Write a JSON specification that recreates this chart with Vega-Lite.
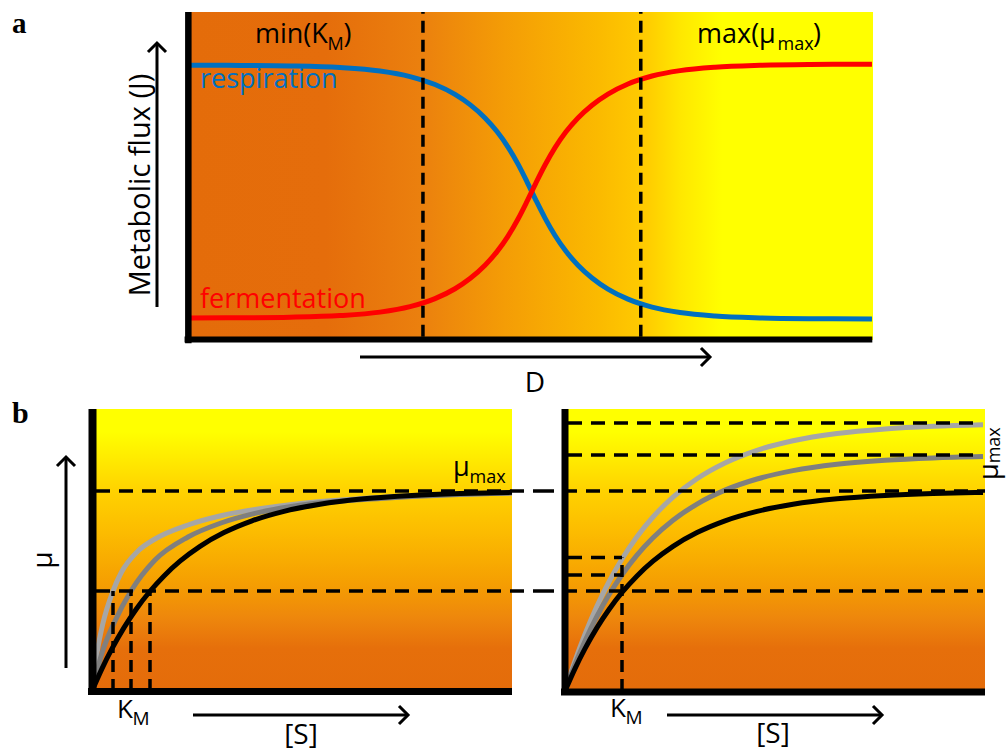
{
  "$schema": "https://vega.github.io/schema/vega-lite/v6.json",
  "padding": 0,
  "spacing": 0,
  "bounds": "flush",
  "background": "white",
  "config": {
    "view": {"stroke": null},
    "axis": {"disable": true},
    "legend": {"disable": true},
    "text": {"font": "Open Sans", "color": "black"}
  },
  "vconcat": [
    {
      "width": 1007,
      "height": 395,
      "layer": [
        {
          "data": {"values": [{}]},
          "mark": {"type": "rect", "stroke": null, "fill": {"gradient": "linear", "x1": 0, "y1": 0, "x2": 1, "y2": 0, "stops": [
            {"offset": 0, "color": "#E46C0A"},
            {"offset": 0.2, "color": "#E56D0B"},
            {"offset": 0.34, "color": "#EB800E"},
            {"offset": 0.46, "color": "#F49C06"},
            {"offset": 0.6, "color": "#FBBA00"},
            {"offset": 0.67, "color": "#FFCC00"},
            {"offset": 0.72, "color": "#FFE800"},
            {"offset": 0.78, "color": "#FFFF00"},
            {"offset": 1, "color": "#FFFF00"}
          ]}},
          "encoding": {
            "x": {"datum": 0, "type": "quantitative", "scale": {"domain": [-2.7445, 11.9562], "nice": false, "zero": false}, "axis": null},
            "x2": {"datum": 10},
            "y": {"datum": 0, "type": "quantitative", "scale": {"domain": [-0.16768, 1.03659], "nice": false, "zero": false}, "axis": null},
            "y2": {"datum": 1}
          }
        },
        {
          "data": {"values": [
            {"D": 0.029, "J": 0.8377}, {"D": 0.759, "J": 0.8372}, {"D": 1.489, "J": 0.8356}, {"D": 2.219, "J": 0.8306},
            {"D": 2.803, "J": 0.82}, {"D": 3.241, "J": 0.8032}, {"D": 3.606, "J": 0.7788}, {"D": 3.898, "J": 0.7487},
            {"D": 4.117, "J": 0.7176}, {"D": 4.336, "J": 0.677}, {"D": 4.511, "J": 0.6356}, {"D": 4.672, "J": 0.5882},
            {"D": 4.818, "J": 0.5361}, {"D": 4.949, "J": 0.4823}, {"D": 5.08, "J": 0.4258}, {"D": 5.212, "J": 0.3716},
            {"D": 5.358, "J": 0.3186}, {"D": 5.518, "J": 0.2703}, {"D": 5.693, "J": 0.2281}, {"D": 5.898, "J": 0.1892},
            {"D": 6.131, "J": 0.1552}, {"D": 6.423, "J": 0.1245}, {"D": 6.774, "J": 0.1002}, {"D": 7.182, "J": 0.0837},
            {"D": 7.693, "J": 0.0731}, {"D": 8.35, "J": 0.0674}, {"D": 9.08, "J": 0.0651}, {"D": 9.985, "J": 0.0643}
          ]},
          "mark": {"type": "line", "interpolate": "monotone", "strokeWidth": 5, "strokeCap": "butt", "color": "#0070C0"},
          "encoding": {
            "x": {"field": "D", "type": "quantitative", "scale": {"domain": [-2.7445, 11.9562], "nice": false, "zero": false}, "axis": null},
            "y": {"field": "J", "type": "quantitative", "scale": {"domain": [-0.16768, 1.03659], "nice": false, "zero": false}, "axis": null}
          }
        },
        {
          "data": {"values": [
            {"D": 0.029, "J": 0.0673}, {"D": 0.759, "J": 0.0678}, {"D": 1.489, "J": 0.0694}, {"D": 2.219, "J": 0.0744},
            {"D": 2.803, "J": 0.085}, {"D": 3.241, "J": 0.1018}, {"D": 3.606, "J": 0.1262}, {"D": 3.898, "J": 0.1563},
            {"D": 4.117, "J": 0.1874}, {"D": 4.336, "J": 0.228}, {"D": 4.511, "J": 0.2694}, {"D": 4.672, "J": 0.3168},
            {"D": 4.818, "J": 0.3689}, {"D": 4.949, "J": 0.4227}, {"D": 5.08, "J": 0.4792}, {"D": 5.212, "J": 0.5334},
            {"D": 5.358, "J": 0.5864}, {"D": 5.518, "J": 0.6347}, {"D": 5.693, "J": 0.6769}, {"D": 5.898, "J": 0.7158},
            {"D": 6.131, "J": 0.7498}, {"D": 6.423, "J": 0.7805}, {"D": 6.774, "J": 0.8048}, {"D": 7.182, "J": 0.8213},
            {"D": 7.693, "J": 0.8319}, {"D": 8.35, "J": 0.8376}, {"D": 9.08, "J": 0.8399}, {"D": 9.985, "J": 0.8407}
          ]},
          "mark": {"type": "line", "interpolate": "monotone", "strokeWidth": 5, "strokeCap": "butt", "color": "#FF0000"},
          "encoding": {
            "x": {"field": "D", "type": "quantitative", "scale": {"domain": [-2.7445, 11.9562], "nice": false, "zero": false}, "axis": null},
            "y": {"field": "J", "type": "quantitative", "scale": {"domain": [-0.16768, 1.03659], "nice": false, "zero": false}, "axis": null}
          }
        },
        {
          "data": {"values": [{"D": 3.43, "J": 0.01, "J2": 1}, {"D": 6.61, "J": 0.01, "J2": 1}]},
          "mark": {"type": "rule", "strokeDash": [12, 7], "strokeWidth": 3.5, "color": "black"},
          "encoding": {
            "x": {"field": "D", "type": "quantitative", "scale": {"domain": [-2.7445, 11.9562], "nice": false, "zero": false}, "axis": null},
            "y": {"field": "J", "type": "quantitative", "scale": {"domain": [-0.16768, 1.03659], "nice": false, "zero": false}, "axis": null},
            "y2": {"field": "J2"}
          }
        },
        {
          "data": {"values": [{}]},
          "mark": {"type": "rule", "strokeWidth": 6.5, "color": "black"},
          "encoding": {
            "x": {"datum": 0.005, "type": "quantitative", "scale": {"domain": [-2.7445, 11.9562], "nice": false, "zero": false}, "axis": null},
            "y": {"datum": -0.01, "type": "quantitative", "scale": {"domain": [-0.16768, 1.03659], "nice": false, "zero": false}, "axis": null},
            "y2": {"datum": 1}
          }
        },
        {
          "data": {"values": [{}]},
          "mark": {"type": "rule", "strokeWidth": 6, "color": "black"},
          "encoding": {
            "x": {"datum": -0.05, "type": "quantitative", "scale": {"domain": [-2.7445, 11.9562], "nice": false, "zero": false}, "axis": null},
            "x2": {"datum": 9.99},
            "y": {"datum": 0.0015, "type": "quantitative", "scale": {"domain": [-0.16768, 1.03659], "nice": false, "zero": false}, "axis": null}
          }
        },
        {
          "data": {"values": [{}]},
          "mark": {"type": "rule", "strokeWidth": 3, "color": "black"},
          "encoding": {
            "x": {"datum": -0.4526, "type": "quantitative", "scale": {"domain": [-2.7445, 11.9562], "nice": false, "zero": false}, "axis": null},
            "y": {"datum": 0.1006, "type": "quantitative", "scale": {"domain": [-0.16768, 1.03659], "nice": false, "zero": false}, "axis": null},
            "y2": {"datum": 0.9055}
          }
        },
        {
          "data": {"values": [{}]},
          "mark": {"type": "point", "shape": "M -1 1 L 0 0 L 1 1", "filled": false, "stroke": "black", "strokeWidth": 3, "size": 324, "opacity": 1},
          "encoding": {
            "x": {"datum": -0.4526, "type": "quantitative", "scale": {"domain": [-2.7445, 11.9562], "nice": false, "zero": false}, "axis": null},
            "y": {"datum": 0.9055, "type": "quantitative", "scale": {"domain": [-0.16768, 1.03659], "nice": false, "zero": false}, "axis": null}
          }
        },
        {
          "data": {"values": [{}]},
          "mark": {"type": "rule", "strokeWidth": 3, "color": "black"},
          "encoding": {
            "x": {"datum": 2.511, "type": "quantitative", "scale": {"domain": [-2.7445, 11.9562], "nice": false, "zero": false}, "axis": null},
            "x2": {"datum": 7.62},
            "y": {"datum": -0.0518, "type": "quantitative", "scale": {"domain": [-0.16768, 1.03659], "nice": false, "zero": false}, "axis": null}
          }
        },
        {
          "data": {"values": [{}]},
          "mark": {"type": "point", "shape": "M -1 -1 L 0 0 L -1 1", "filled": false, "stroke": "black", "strokeWidth": 3, "size": 324, "opacity": 1},
          "encoding": {
            "x": {"datum": 7.62, "type": "quantitative", "scale": {"domain": [-2.7445, 11.9562], "nice": false, "zero": false}, "axis": null},
            "y": {"datum": -0.0518, "type": "quantitative", "scale": {"domain": [-0.16768, 1.03659], "nice": false, "zero": false}, "axis": null}
          }
        },
        {
          "data": {"values": [{}]},
          "mark": {"type": "text", "text": "a", "font": "Liberation Serif", "fontWeight": "bold", "fontSize": 29, "align": "left", "baseline": "alphabetic"},
          "encoding": {
            "x": {"datum": -2.569, "type": "quantitative", "scale": {"domain": [-2.7445, 11.9562], "nice": false, "zero": false}, "axis": null},
            "y": {"datum": 0.936, "type": "quantitative", "scale": {"domain": [-0.16768, 1.03659], "nice": false, "zero": false}, "axis": null}
          }
        },
        {
          "data": {"values": [{}]},
          "mark": {"type": "text", "text": "Metabolic flux (J)", "fontSize": 29, "angle": 270, "align": "center", "baseline": "alphabetic"},
          "encoding": {
            "x": {"datum": -0.555, "type": "quantitative", "scale": {"domain": [-2.7445, 11.9562], "nice": false, "zero": false}, "axis": null},
            "y": {"datum": 0.4726, "type": "quantitative", "scale": {"domain": [-0.16768, 1.03659], "nice": false, "zero": false}, "axis": null}
          }
        },
        {
          "data": {"values": [{}]},
          "mark": {"type": "text", "text": "respiration", "fontSize": 27, "color": "#0070C0", "align": "left", "baseline": "alphabetic"},
          "encoding": {
            "x": {"datum": 0.175, "type": "quantitative", "scale": {"domain": [-2.7445, 11.9562], "nice": false, "zero": false}, "axis": null},
            "y": {"datum": 0.768, "type": "quantitative", "scale": {"domain": [-0.16768, 1.03659], "nice": false, "zero": false}, "axis": null}
          }
        },
        {
          "data": {"values": [{}]},
          "mark": {"type": "text", "text": "fermentation", "fontSize": 27, "color": "#FF0000", "align": "left", "baseline": "alphabetic"},
          "encoding": {
            "x": {"datum": 0.175, "type": "quantitative", "scale": {"domain": [-2.7445, 11.9562], "nice": false, "zero": false}, "axis": null},
            "y": {"datum": 0.0976, "type": "quantitative", "scale": {"domain": [-0.16768, 1.03659], "nice": false, "zero": false}, "axis": null}
          }
        },
        {
          "data": {"values": [{}]},
          "mark": {"type": "text", "text": "min(K", "fontSize": 27, "align": "left", "baseline": "alphabetic"},
          "encoding": {
            "x": {"datum": 0.978, "type": "quantitative", "scale": {"domain": [-2.7445, 11.9562], "nice": false, "zero": false}, "axis": null},
            "y": {"datum": 0.9055, "type": "quantitative", "scale": {"domain": [-0.16768, 1.03659], "nice": false, "zero": false}, "axis": null}
          }
        },
        {
          "data": {"values": [{}]},
          "mark": {"type": "text", "text": "M", "fontSize": 18, "align": "left", "baseline": "alphabetic"},
          "encoding": {
            "x": {"datum": 2.036, "type": "quantitative", "scale": {"domain": [-2.7445, 11.9562], "nice": false, "zero": false}, "axis": null},
            "y": {"datum": 0.884, "type": "quantitative", "scale": {"domain": [-0.16768, 1.03659], "nice": false, "zero": false}, "axis": null}
          }
        },
        {
          "data": {"values": [{}]},
          "mark": {"type": "text", "text": ")", "fontSize": 27, "align": "left", "baseline": "alphabetic"},
          "encoding": {
            "x": {"datum": 2.269, "type": "quantitative", "scale": {"domain": [-2.7445, 11.9562], "nice": false, "zero": false}, "axis": null},
            "y": {"datum": 0.9055, "type": "quantitative", "scale": {"domain": [-0.16768, 1.03659], "nice": false, "zero": false}, "axis": null}
          }
        },
        {
          "data": {"values": [{}]},
          "mark": {"type": "text", "text": "max(μ", "fontSize": 27, "align": "left", "baseline": "alphabetic"},
          "encoding": {
            "x": {"datum": 7.431, "type": "quantitative", "scale": {"domain": [-2.7445, 11.9562], "nice": false, "zero": false}, "axis": null},
            "y": {"datum": 0.9055, "type": "quantitative", "scale": {"domain": [-0.16768, 1.03659], "nice": false, "zero": false}, "axis": null}
          }
        },
        {
          "data": {"values": [{}]},
          "mark": {"type": "text", "text": "max", "fontSize": 18, "align": "left", "baseline": "alphabetic"},
          "encoding": {
            "x": {"datum": 8.606, "type": "quantitative", "scale": {"domain": [-2.7445, 11.9562], "nice": false, "zero": false}, "axis": null},
            "y": {"datum": 0.884, "type": "quantitative", "scale": {"domain": [-0.16768, 1.03659], "nice": false, "zero": false}, "axis": null}
          }
        },
        {
          "data": {"values": [{}]},
          "mark": {"type": "text", "text": ")", "fontSize": 27, "align": "left", "baseline": "alphabetic"},
          "encoding": {
            "x": {"datum": 9.124, "type": "quantitative", "scale": {"domain": [-2.7445, 11.9562], "nice": false, "zero": false}, "axis": null},
            "y": {"datum": 0.9055, "type": "quantitative", "scale": {"domain": [-0.16768, 1.03659], "nice": false, "zero": false}, "axis": null}
          }
        },
        {
          "data": {"values": [{}]},
          "mark": {"type": "text", "text": "D", "fontSize": 28, "align": "center", "baseline": "alphabetic"},
          "encoding": {
            "x": {"datum": 5.066, "type": "quantitative", "scale": {"domain": [-2.7445, 11.9562], "nice": false, "zero": false}, "axis": null},
            "y": {"datum": -0.1585, "type": "quantitative", "scale": {"domain": [-0.16768, 1.03659], "nice": false, "zero": false}, "axis": null}
          }
        }
      ]
    },
    {
      "spacing": 0,
      "bounds": "flush",
      "hconcat": [
        {
          "width": 540,
          "height": 356,
          "layer": [
            {
              "data": {"values": [{}]},
              "mark": {"type": "rect", "stroke": null, "fill": {"gradient": "linear", "x1": 0, "y1": 0, "x2": 0, "y2": 1, "stops": [
                {"offset": 0, "color": "#FFFF00"},
                {"offset": 0.08, "color": "#FFFF00"},
                {"offset": 0.18, "color": "#FFEA00"},
                {"offset": 0.29, "color": "#FFD200"},
                {"offset": 0.44, "color": "#FCBB00"},
                {"offset": 0.62, "color": "#F59E02"},
                {"offset": 0.74, "color": "#EE870C"},
                {"offset": 0.85, "color": "#E66F0B"},
                {"offset": 1, "color": "#E46C0A"}
              ]}},
              "encoding": {
                "x": {"datum": 0, "type": "quantitative", "scale": {"domain": [-2.3, 11.2], "nice": false, "zero": false}, "axis": null},
                "x2": {"datum": 10.5},
                "y": {"datum": 0, "type": "quantitative", "scale": {"domain": [-0.3, 1.48], "nice": false, "zero": false}, "axis": null},
                "y2": {"datum": 1.41}
              }
            },
            {
              "data": {"values": [
                {"S": 0, "mu": 0}, {"S": 0.125, "mu": 0.19}, {"S": 0.275, "mu": 0.34}, {"S": 0.525, "mu": 0.5},
                {"S": 0.725, "mu": 0.59}, {"S": 1.15, "mu": 0.7}, {"S": 1.575, "mu": 0.76}, {"S": 2.4, "mu": 0.83},
                {"S": 3.225, "mu": 0.876}, {"S": 4.075, "mu": 0.908}, {"S": 4.9, "mu": 0.93}, {"S": 5.65, "mu": 0.946},
                {"S": 7.2, "mu": 0.968}, {"S": 8.875, "mu": 0.982}, {"S": 10.5, "mu": 0.99}
              ]},
              "mark": {"type": "line", "interpolate": "monotone", "strokeWidth": 5, "strokeCap": "butt", "color": "#A6A6A6"},
              "encoding": {
                "x": {"field": "S", "type": "quantitative", "scale": {"domain": [-2.3, 11.2], "nice": false, "zero": false}, "axis": null},
                "y": {"field": "mu", "type": "quantitative", "scale": {"domain": [-0.3, 1.48], "nice": false, "zero": false}, "axis": null}
              }
            },
            {
              "data": {"values": [
                {"S": 0, "mu": 0}, {"S": 0.25, "mu": 0.19}, {"S": 0.575, "mu": 0.35}, {"S": 0.975, "mu": 0.5},
                {"S": 1.575, "mu": 0.655}, {"S": 2.4, "mu": 0.77}, {"S": 3.225, "mu": 0.84}, {"S": 4.075, "mu": 0.888},
                {"S": 4.9, "mu": 0.92}, {"S": 5.65, "mu": 0.94}, {"S": 7.2, "mu": 0.963}, {"S": 8.875, "mu": 0.98},
                {"S": 10.5, "mu": 0.99}
              ]},
              "mark": {"type": "line", "interpolate": "monotone", "strokeWidth": 5, "strokeCap": "butt", "color": "#7F7F7F"},
              "encoding": {
                "x": {"field": "S", "type": "quantitative", "scale": {"domain": [-2.3, 11.2], "nice": false, "zero": false}, "axis": null},
                "y": {"field": "mu", "type": "quantitative", "scale": {"domain": [-0.3, 1.48], "nice": false, "zero": false}, "axis": null}
              }
            },
            {
              "data": {"values": [
                {"S": 0, "mu": 0}, {"S": 0.25, "mu": 0.1122}, {"S": 0.5, "mu": 0.2119}, {"S": 0.8, "mu": 0.3168},
                {"S": 1.1, "mu": 0.4077}, {"S": 1.45, "mu": 0.4987}, {"S": 1.8, "mu": 0.5756}, {"S": 2.2, "mu": 0.6492},
                {"S": 2.7, "mu": 0.7235}, {"S": 3.3, "mu": 0.7922}, {"S": 4.0, "mu": 0.8511}, {"S": 4.8, "mu": 0.8983},
                {"S": 5.7, "mu": 0.9337}, {"S": 6.8, "mu": 0.9608}, {"S": 8.0, "mu": 0.9778}, {"S": 9.2, "mu": 0.9875},
                {"S": 10.5, "mu": 0.9933}
              ]},
              "mark": {"type": "line", "interpolate": "monotone", "strokeWidth": 5, "strokeCap": "butt", "color": "#000000"},
              "encoding": {
                "x": {"field": "S", "type": "quantitative", "scale": {"domain": [-2.3, 11.2], "nice": false, "zero": false}, "axis": null},
                "y": {"field": "mu", "type": "quantitative", "scale": {"domain": [-0.3, 1.48], "nice": false, "zero": false}, "axis": null}
              }
            },
            {
              "data": {"values": [{"S": 0.1, "S2": 11.2, "mu": 1}, {"S": 0.1, "S2": 11.2, "mu": 0.5}]},
              "mark": {"type": "rule", "strokeDash": [14, 9], "strokeWidth": 3.5, "color": "black"},
              "encoding": {
                "x": {"field": "S", "type": "quantitative", "scale": {"domain": [-2.3, 11.2], "nice": false, "zero": false}, "axis": null},
                "x2": {"field": "S2"},
                "y": {"field": "mu", "type": "quantitative", "scale": {"domain": [-0.3, 1.48], "nice": false, "zero": false}, "axis": null}
              }
            },
            {
              "data": {"values": [{"S": 0.525, "mu": 0, "mu2": 0.5}, {"S": 0.975, "mu": 0, "mu2": 0.5}, {"S": 1.45, "mu": 0, "mu2": 0.5}]},
              "mark": {"type": "rule", "strokeDash": [12, 7], "strokeWidth": 3.5, "color": "black"},
              "encoding": {
                "x": {"field": "S", "type": "quantitative", "scale": {"domain": [-2.3, 11.2], "nice": false, "zero": false}, "axis": null},
                "y": {"field": "mu", "type": "quantitative", "scale": {"domain": [-0.3, 1.48], "nice": false, "zero": false}, "axis": null},
                "y2": {"field": "mu2"}
              }
            },
            {
              "data": {"values": [{}]},
              "mark": {"type": "rule", "strokeWidth": 8, "color": "black"},
              "encoding": {
                "x": {"datum": 0.0125, "type": "quantitative", "scale": {"domain": [-2.3, 11.2], "nice": false, "zero": false}, "axis": null},
                "y": {"datum": -0.02, "type": "quantitative", "scale": {"domain": [-0.3, 1.48], "nice": false, "zero": false}, "axis": null},
                "y2": {"datum": 1.41}
              }
            },
            {
              "data": {"values": [{}]},
              "mark": {"type": "rule", "strokeWidth": 7, "color": "black"},
              "encoding": {
                "x": {"datum": -0.1, "type": "quantitative", "scale": {"domain": [-2.3, 11.2], "nice": false, "zero": false}, "axis": null},
                "x2": {"datum": 10.5},
                "y": {"datum": -0.0025, "type": "quantitative", "scale": {"domain": [-0.3, 1.48], "nice": false, "zero": false}, "axis": null}
              }
            },
            {
              "data": {"values": [{}]},
              "mark": {"type": "rule", "strokeWidth": 3, "color": "black"},
              "encoding": {
                "x": {"datum": -0.65, "type": "quantitative", "scale": {"domain": [-2.3, 11.2], "nice": false, "zero": false}, "axis": null},
                "y": {"datum": 0.115, "type": "quantitative", "scale": {"domain": [-0.3, 1.48], "nice": false, "zero": false}, "axis": null},
                "y2": {"datum": 1.17}
              }
            },
            {
              "data": {"values": [{}]},
              "mark": {"type": "point", "shape": "M -1 1 L 0 0 L 1 1", "filled": false, "stroke": "black", "strokeWidth": 3, "size": 324, "opacity": 1},
              "encoding": {
                "x": {"datum": -0.65, "type": "quantitative", "scale": {"domain": [-2.3, 11.2], "nice": false, "zero": false}, "axis": null},
                "y": {"datum": 1.17, "type": "quantitative", "scale": {"domain": [-0.3, 1.48], "nice": false, "zero": false}, "axis": null}
              }
            },
            {
              "data": {"values": [{}]},
              "mark": {"type": "rule", "strokeWidth": 3, "color": "black"},
              "encoding": {
                "x": {"datum": 2.525, "type": "quantitative", "scale": {"domain": [-2.3, 11.2], "nice": false, "zero": false}, "axis": null},
                "x2": {"datum": 7.9},
                "y": {"datum": -0.12, "type": "quantitative", "scale": {"domain": [-0.3, 1.48], "nice": false, "zero": false}, "axis": null}
              }
            },
            {
              "data": {"values": [{}]},
              "mark": {"type": "point", "shape": "M -1 -1 L 0 0 L -1 1", "filled": false, "stroke": "black", "strokeWidth": 3, "size": 324, "opacity": 1},
              "encoding": {
                "x": {"datum": 7.9, "type": "quantitative", "scale": {"domain": [-2.3, 11.2], "nice": false, "zero": false}, "axis": null},
                "y": {"datum": -0.12, "type": "quantitative", "scale": {"domain": [-0.3, 1.48], "nice": false, "zero": false}, "axis": null}
              }
            },
            {
              "data": {"values": [{}]},
              "mark": {"type": "text", "text": "b", "font": "Liberation Serif", "fontWeight": "bold", "fontSize": 30, "align": "left", "baseline": "alphabetic"},
              "encoding": {
                "x": {"datum": -2.0, "type": "quantitative", "scale": {"domain": [-2.3, 11.2], "nice": false, "zero": false}, "axis": null},
                "y": {"datum": 1.34, "type": "quantitative", "scale": {"domain": [-0.3, 1.48], "nice": false, "zero": false}, "axis": null}
              }
            },
            {
              "data": {"values": [{}]},
              "mark": {"type": "text", "text": "μ", "fontSize": 28, "angle": 270, "align": "center", "baseline": "alphabetic"},
              "encoding": {
                "x": {"datum": -1.0, "type": "quantitative", "scale": {"domain": [-2.3, 11.2], "nice": false, "zero": false}, "axis": null},
                "y": {"datum": 0.655, "type": "quantitative", "scale": {"domain": [-0.3, 1.48], "nice": false, "zero": false}, "axis": null}
              }
            },
            {
              "data": {"values": [{}]},
              "mark": {"type": "text", "text": "μ", "fontSize": 27, "align": "left", "baseline": "alphabetic"},
              "encoding": {
                "x": {"datum": 9.025, "type": "quantitative", "scale": {"domain": [-2.3, 11.2], "nice": false, "zero": false}, "axis": null},
                "y": {"datum": 1.0775, "type": "quantitative", "scale": {"domain": [-0.3, 1.48], "nice": false, "zero": false}, "axis": null}
              }
            },
            {
              "data": {"values": [{}]},
              "mark": {"type": "text", "text": "max", "fontSize": 18, "align": "left", "baseline": "alphabetic"},
              "encoding": {
                "x": {"datum": 9.44, "type": "quantitative", "scale": {"domain": [-2.3, 11.2], "nice": false, "zero": false}, "axis": null},
                "y": {"datum": 1.04, "type": "quantitative", "scale": {"domain": [-0.3, 1.48], "nice": false, "zero": false}, "axis": null}
              }
            },
            {
              "data": {"values": [{}]},
              "mark": {"type": "text", "text": "K", "fontSize": 26, "align": "left", "baseline": "alphabetic"},
              "encoding": {
                "x": {"datum": 0.625, "type": "quantitative", "scale": {"domain": [-2.3, 11.2], "nice": false, "zero": false}, "axis": null},
                "y": {"datum": -0.135, "type": "quantitative", "scale": {"domain": [-0.3, 1.48], "nice": false, "zero": false}, "axis": null}
              }
            },
            {
              "data": {"values": [{}]},
              "mark": {"type": "text", "text": "M", "fontSize": 19, "align": "left", "baseline": "alphabetic"},
              "encoding": {
                "x": {"datum": 1.0125, "type": "quantitative", "scale": {"domain": [-2.3, 11.2], "nice": false, "zero": false}, "axis": null},
                "y": {"datum": -0.17, "type": "quantitative", "scale": {"domain": [-0.3, 1.48], "nice": false, "zero": false}, "axis": null}
              }
            },
            {
              "data": {"values": [{}]},
              "mark": {"type": "text", "text": "[S]", "fontSize": 28, "align": "center", "baseline": "alphabetic"},
              "encoding": {
                "x": {"datum": 5.225, "type": "quantitative", "scale": {"domain": [-2.3, 11.2], "nice": false, "zero": false}, "axis": null},
                "y": {"datum": -0.265, "type": "quantitative", "scale": {"domain": [-0.3, 1.48], "nice": false, "zero": false}, "axis": null}
              }
            }
          ]
        },
        {
          "width": 467,
          "height": 356,
          "layer": [
            {
              "data": {"values": [{}]},
              "mark": {"type": "rect", "stroke": null, "fill": {"gradient": "linear", "x1": 0, "y1": 0, "x2": 0, "y2": 1, "stops": [
                {"offset": 0, "color": "#FFFF00"},
                {"offset": 0.08, "color": "#FFFF00"},
                {"offset": 0.18, "color": "#FFEA00"},
                {"offset": 0.29, "color": "#FFD200"},
                {"offset": 0.44, "color": "#FCBB00"},
                {"offset": 0.62, "color": "#F59E02"},
                {"offset": 0.74, "color": "#EE870C"},
                {"offset": 0.85, "color": "#E66F0B"},
                {"offset": 1, "color": "#E46C0A"}
              ]}},
              "encoding": {
                "x": {"datum": 0, "type": "quantitative", "scale": {"domain": [-0.625, 11.05], "nice": false, "zero": false}, "axis": null},
                "x2": {"datum": 10.5},
                "y": {"datum": 0, "type": "quantitative", "scale": {"domain": [-0.3, 1.48], "nice": false, "zero": false}, "axis": null},
                "y2": {"datum": 1.41}
              }
            },
            {
              "data": {"values": [
                {"S": 0, "mu": 0}, {"S": 0.25, "mu": 0.1503}, {"S": 0.5, "mu": 0.2839}, {"S": 0.8, "mu": 0.4245},
                {"S": 1.1, "mu": 0.5463}, {"S": 1.425, "mu": 0.6602}, {"S": 1.8, "mu": 0.7713}, {"S": 2.2, "mu": 0.8699},
                {"S": 2.7, "mu": 0.9695}, {"S": 3.3, "mu": 1.0615}, {"S": 4.0, "mu": 1.1405}, {"S": 4.8, "mu": 1.2037},
                {"S": 5.7, "mu": 1.2512}, {"S": 6.8, "mu": 1.2875}, {"S": 8.0, "mu": 1.3103}, {"S": 9.2, "mu": 1.3233},
                {"S": 10.45, "mu": 1.3308}
              ]},
              "mark": {"type": "line", "interpolate": "monotone", "strokeWidth": 5, "strokeCap": "butt", "color": "#A6A6A6"},
              "encoding": {
                "x": {"field": "S", "type": "quantitative", "scale": {"domain": [-0.625, 11.05], "nice": false, "zero": false}, "axis": null},
                "y": {"field": "mu", "type": "quantitative", "scale": {"domain": [-0.3, 1.48], "nice": false, "zero": false}, "axis": null}
              }
            },
            {
              "data": {"values": [
                {"S": 0, "mu": 0}, {"S": 0.25, "mu": 0.1324}, {"S": 0.5, "mu": 0.25}, {"S": 0.8, "mu": 0.3738},
                {"S": 1.1, "mu": 0.4811}, {"S": 1.425, "mu": 0.5814}, {"S": 1.8, "mu": 0.6792}, {"S": 2.2, "mu": 0.7661},
                {"S": 2.7, "mu": 0.8537}, {"S": 3.3, "mu": 0.9348}, {"S": 4.0, "mu": 1.0043}, {"S": 4.8, "mu": 1.06},
                {"S": 5.7, "mu": 1.1018}, {"S": 6.8, "mu": 1.1337}, {"S": 8.0, "mu": 1.1538}, {"S": 9.2, "mu": 1.1653},
                {"S": 10.45, "mu": 1.1719}
              ]},
              "mark": {"type": "line", "interpolate": "monotone", "strokeWidth": 5, "strokeCap": "butt", "color": "#7F7F7F"},
              "encoding": {
                "x": {"field": "S", "type": "quantitative", "scale": {"domain": [-0.625, 11.05], "nice": false, "zero": false}, "axis": null},
                "y": {"field": "mu", "type": "quantitative", "scale": {"domain": [-0.3, 1.48], "nice": false, "zero": false}, "axis": null}
              }
            },
            {
              "data": {"values": [
                {"S": 0, "mu": 0}, {"S": 0.25, "mu": 0.1122}, {"S": 0.5, "mu": 0.2119}, {"S": 0.8, "mu": 0.3168},
                {"S": 1.1, "mu": 0.4077}, {"S": 1.425, "mu": 0.4927}, {"S": 1.8, "mu": 0.5756}, {"S": 2.2, "mu": 0.6492},
                {"S": 2.7, "mu": 0.7235}, {"S": 3.3, "mu": 0.7922}, {"S": 4.0, "mu": 0.8511}, {"S": 4.8, "mu": 0.8983},
                {"S": 5.7, "mu": 0.9337}, {"S": 6.8, "mu": 0.9608}, {"S": 8.0, "mu": 0.9778}, {"S": 9.2, "mu": 0.9875},
                {"S": 10.45, "mu": 0.9931}
              ]},
              "mark": {"type": "line", "interpolate": "monotone", "strokeWidth": 5, "strokeCap": "butt", "color": "#000000"},
              "encoding": {
                "x": {"field": "S", "type": "quantitative", "scale": {"domain": [-0.625, 11.05], "nice": false, "zero": false}, "axis": null},
                "y": {"field": "mu", "type": "quantitative", "scale": {"domain": [-0.3, 1.48], "nice": false, "zero": false}, "axis": null}
              }
            },
            {
              "data": {"values": [
                {"S": -0.625, "S2": 10.5, "mu": 1},
                {"S": -0.625, "S2": 10.45, "mu": 0.5},
                {"S": 0.075, "S2": 10.375, "mu": 1.34},
                {"S": 0.075, "S2": 10.375, "mu": 1.18},
                {"S": 0.075, "S2": 1.425, "mu": 0.667},
                {"S": 0.075, "S2": 1.425, "mu": 0.58}
              ]},
              "mark": {"type": "rule", "strokeDash": [14, 9], "strokeWidth": 3.5, "color": "black"},
              "encoding": {
                "x": {"field": "S", "type": "quantitative", "scale": {"domain": [-0.625, 11.05], "nice": false, "zero": false}, "axis": null},
                "x2": {"field": "S2"},
                "y": {"field": "mu", "type": "quantitative", "scale": {"domain": [-0.3, 1.48], "nice": false, "zero": false}, "axis": null}
              }
            },
            {
              "data": {"values": [{"S": 1.425, "mu": 0, "mu2": 0.667}]},
              "mark": {"type": "rule", "strokeDash": [12, 7], "strokeWidth": 3.5, "color": "black"},
              "encoding": {
                "x": {"field": "S", "type": "quantitative", "scale": {"domain": [-0.625, 11.05], "nice": false, "zero": false}, "axis": null},
                "y": {"field": "mu", "type": "quantitative", "scale": {"domain": [-0.3, 1.48], "nice": false, "zero": false}, "axis": null},
                "y2": {"field": "mu2"}
              }
            },
            {
              "data": {"values": [{}]},
              "mark": {"type": "rule", "strokeWidth": 7, "color": "black"},
              "encoding": {
                "x": {"datum": 0, "type": "quantitative", "scale": {"domain": [-0.625, 11.05], "nice": false, "zero": false}, "axis": null},
                "y": {"datum": -0.02, "type": "quantitative", "scale": {"domain": [-0.3, 1.48], "nice": false, "zero": false}, "axis": null},
                "y2": {"datum": 1.41}
              }
            },
            {
              "data": {"values": [{}]},
              "mark": {"type": "rule", "strokeWidth": 7, "color": "black"},
              "encoding": {
                "x": {"datum": -0.1, "type": "quantitative", "scale": {"domain": [-0.625, 11.05], "nice": false, "zero": false}, "axis": null},
                "x2": {"datum": 10.5},
                "y": {"datum": -0.005, "type": "quantitative", "scale": {"domain": [-0.3, 1.48], "nice": false, "zero": false}, "axis": null}
              }
            },
            {
              "data": {"values": [{}]},
              "mark": {"type": "rule", "strokeWidth": 3, "color": "black"},
              "encoding": {
                "x": {"datum": 2.55, "type": "quantitative", "scale": {"domain": [-0.625, 11.05], "nice": false, "zero": false}, "axis": null},
                "x2": {"datum": 7.925},
                "y": {"datum": -0.12, "type": "quantitative", "scale": {"domain": [-0.3, 1.48], "nice": false, "zero": false}, "axis": null}
              }
            },
            {
              "data": {"values": [{}]},
              "mark": {"type": "point", "shape": "M -1 -1 L 0 0 L -1 1", "filled": false, "stroke": "black", "strokeWidth": 3, "size": 324, "opacity": 1},
              "encoding": {
                "x": {"datum": 7.925, "type": "quantitative", "scale": {"domain": [-0.625, 11.05], "nice": false, "zero": false}, "axis": null},
                "y": {"datum": -0.12, "type": "quantitative", "scale": {"domain": [-0.3, 1.48], "nice": false, "zero": false}, "axis": null}
              }
            },
            {
              "data": {"values": [{}]},
              "mark": {"type": "text", "text": "K", "fontSize": 26, "align": "left", "baseline": "alphabetic"},
              "encoding": {
                "x": {"datum": 1.125, "type": "quantitative", "scale": {"domain": [-0.625, 11.05], "nice": false, "zero": false}, "axis": null},
                "y": {"datum": -0.13, "type": "quantitative", "scale": {"domain": [-0.3, 1.48], "nice": false, "zero": false}, "axis": null}
              }
            },
            {
              "data": {"values": [{}]},
              "mark": {"type": "text", "text": "M", "fontSize": 19, "align": "left", "baseline": "alphabetic"},
              "encoding": {
                "x": {"datum": 1.5125, "type": "quantitative", "scale": {"domain": [-0.625, 11.05], "nice": false, "zero": false}, "axis": null},
                "y": {"datum": -0.165, "type": "quantitative", "scale": {"domain": [-0.3, 1.48], "nice": false, "zero": false}, "axis": null}
              }
            },
            {
              "data": {"values": [{}]},
              "mark": {"type": "text", "text": "[S]", "fontSize": 28, "align": "center", "baseline": "alphabetic"},
              "encoding": {
                "x": {"datum": 5.2, "type": "quantitative", "scale": {"domain": [-0.625, 11.05], "nice": false, "zero": false}, "axis": null},
                "y": {"datum": -0.26, "type": "quantitative", "scale": {"domain": [-0.3, 1.48], "nice": false, "zero": false}, "axis": null}
              }
            },
            {
              "data": {"values": [{}]},
              "mark": {"type": "text", "text": "μ", "fontSize": 27, "angle": 270, "align": "left", "baseline": "alphabetic"},
              "encoding": {
                "x": {"datum": 10.825, "type": "quantitative", "scale": {"domain": [-0.625, 11.05], "nice": false, "zero": false}, "axis": null},
                "y": {"datum": 1.055, "type": "quantitative", "scale": {"domain": [-0.3, 1.48], "nice": false, "zero": false}, "axis": null}
              }
            },
            {
              "data": {"values": [{}]},
              "mark": {"type": "text", "text": "max", "fontSize": 18, "angle": 270, "align": "left", "baseline": "alphabetic"},
              "encoding": {
                "x": {"datum": 10.875, "type": "quantitative", "scale": {"domain": [-0.625, 11.05], "nice": false, "zero": false}, "axis": null},
                "y": {"datum": 1.1385, "type": "quantitative", "scale": {"domain": [-0.3, 1.48], "nice": false, "zero": false}, "axis": null}
              }
            }
          ]
        }
      ]
    }
  ]
}
